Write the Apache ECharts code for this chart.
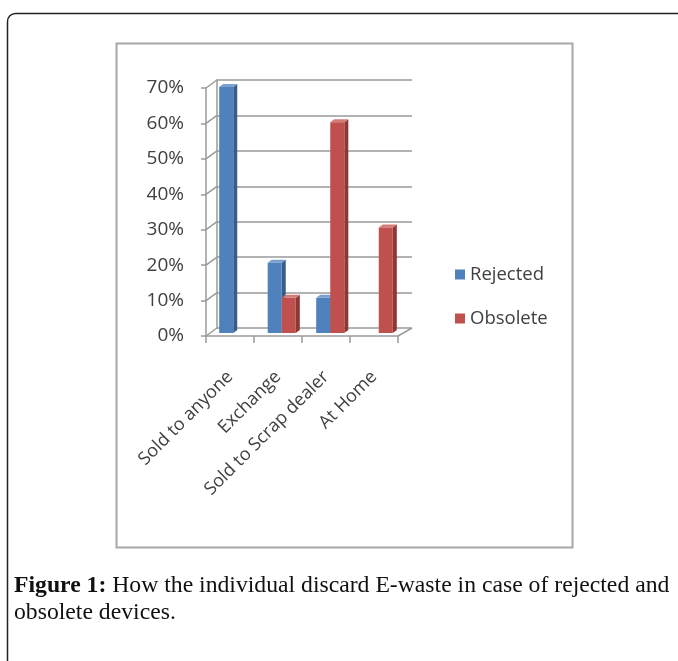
<!DOCTYPE html>
<html>
<head>
<meta charset="utf-8">
<script src="https://cdn.jsdelivr.net/npm/echarts@6/dist/echarts.min.js"></script>
<style>
  html, body { margin: 0; padding: 0; background: #fff; }
  #chart { width: 678px; height: 661px; }
</style>
</head>
<body>
<div id="chart"></div>
<script>
// Ways of discarding e-waste, share of respondents (%)
const categories = ['Sold to anyone', 'Exchange', 'Sold to Scrap dealer', 'At Home'];
const rejected = [70, 20, 10, 0];
const obsolete = [0, 10, 60, 30];
const yTicks = [0, 10, 20, 30, 40, 50, 60, 70];
const seriesNames = ['Rejected', 'Obsolete'];

const palette = {
  Rejected: { front: '#4F81BD', side: '#385D8A', top: '#7BA0D0' },
  Obsolete: { front: '#C0504D', side: '#8C3836', top: '#D47A77' }
};

const chart = echarts.init(document.getElementById('chart'), null, { renderer: 'canvas' });

// pseudo-3D column: front face, right side face and top face
function makeBarRenderer(name, side) {
  const c = palette[name];
  return function (params, api) {
    const cat = api.value(0);
    const v = api.value(1);
    if (!v) return null;
    const base = api.coord([cat, 0]);
    const top = api.coord([cat, v]);
    const band = api.size([1, 0])[0];
    const w = band * 0.29;
    const dx = 4, dy = -3;
    const x0 = side === 0 ? base[0] - w : base[0];
    const y0 = top[1], y1 = base[1];
    return {
      type: 'group',
      children: [
        { type: 'polygon', shape: { points: [[x0 + w, y0], [x0 + w + dx, y0 + dy], [x0 + w + dx, y1 + dy], [x0 + w, y1]] },
          style: { fill: c.side } },
        { type: 'polygon', shape: { points: [[x0, y0], [x0 + dx, y0 + dy], [x0 + w + dx, y0 + dy], [x0 + w, y0]] },
          style: { fill: c.top } },
        { type: 'rect', shape: { x: x0, y: y0, width: w, height: y1 - y0 },
          style: { fill: c.front } }
      ]
    };
  };
}

// diagonal connectors from the back wall to the front axis, plus floor edge
function renderFrame(params, api) {
  const v = api.value(0);
  const cs = params.coordSys;
  const y = api.coord([0, v])[1];
  const children = [
    { type: 'line', shape: { x1: cs.x, y1: y, x2: cs.x - 11, y2: y + 8 },
      style: { stroke: '#9a9a9a', lineWidth: 1.5 } }
  ];
  if (v === 0) {
    children.push({ type: 'line', shape: { x1: cs.x + cs.width, y1: y, x2: cs.x + cs.width - 14, y2: y + 8 },
      style: { stroke: '#9a9a9a', lineWidth: 1.5 } });
  }
  return { type: 'group', children: children };
}

const axisGray = '#9a9a9a';
const labelColor = '#404040';
const sansFont = '"Open Sans", "Liberation Sans", sans-serif';
const serifFont = '"Liberation Serif", serif';

chart.setOption({
  animation: false,
  backgroundColor: '#ffffff',
  grid: [
    { left: 206, top: 88, width: 192, height: 248 },   // front plane: axis labels
    { left: 217, top: 80, width: 195, height: 248 },   // back wall: gridlines
    { left: 209, top: 87, width: 194, height: 246 }    // column plane
  ],
  xAxis: [
    { gridIndex: 0, type: 'category', data: categories,
      axisLine: { show: true, lineStyle: { color: axisGray, width: 1.5 } },
      axisTick: { show: true, length: 7, lineStyle: { color: axisGray, width: 1.5 } },
      axisLabel: { rotate: 45, margin: 38, color: labelColor, fontSize: 18, fontFamily: sansFont, interval: 0 } },
    { gridIndex: 1, type: 'category', data: categories, show: false },
    { gridIndex: 2, type: 'category', data: categories, show: false }
  ],
  yAxis: [
    { gridIndex: 0, type: 'value', min: 0, max: 70, interval: 10,
      axisLine: { show: true, lineStyle: { color: axisGray, width: 1.5 } },
      axisTick: { show: true, length: 5, lineStyle: { color: axisGray, width: 1.5 } },
      splitLine: { show: false },
      axisLabel: { formatter: '{value}%', color: labelColor, fontSize: 19, fontFamily: sansFont, margin: 22 } },
    { gridIndex: 1, type: 'value', min: 0, max: 70, interval: 10,
      axisLine: { show: true, lineStyle: { color: axisGray, width: 1.5 } },
      axisTick: { show: false }, axisLabel: { show: false },
      splitLine: { show: true, lineStyle: { color: axisGray, width: 1.5 } } },
    { gridIndex: 2, type: 'value', min: 0, max: 70, interval: 10, show: false, splitLine: { show: false } }
  ],
  legend: {
    orient: 'vertical', left: 450, top: 260,
    icon: 'rect', itemWidth: 10, itemHeight: 10, itemGap: 25,
    data: seriesNames,
    textStyle: { color: labelColor, fontSize: 18.5, fontFamily: sansFont }
  },
  series: [
    { type: 'custom', name: 'frame', xAxisIndex: 1, yAxisIndex: 1, silent: true,
      renderItem: renderFrame, data: yTicks.map(v => [v]), z: 1 },
    { type: 'custom', name: 'Rejected', xAxisIndex: 2, yAxisIndex: 2,
      itemStyle: { color: palette.Rejected.front },
      renderItem: makeBarRenderer('Rejected', 0),
      data: rejected.map((v, i) => [i, v]), z: 5 },
    { type: 'custom', name: 'Obsolete', xAxisIndex: 2, yAxisIndex: 2,
      itemStyle: { color: palette.Obsolete.front },
      renderItem: makeBarRenderer('Obsolete', 1),
      data: obsolete.map((v, i) => [i, v]), z: 5 }
  ],
  graphic: [
    { type: 'rect', shape: { x: 7.5, y: 13.5, width: 720, height: 700, r: 8 },
      style: { fill: 'none', stroke: '#222', lineWidth: 1.5 }, z: -10, silent: true },
    { type: 'rect', shape: { x: 116.5, y: 43.5, width: 456, height: 504 },
      style: { fill: 'none', stroke: '#a8a8a8', lineWidth: 2 }, z: -9, silent: true },
    { type: 'text', left: 14, top: 574, silent: true,
      style: { text: '{b|Figure 1:} How the individual discard E-waste in case of rejected and',
        font: '23.7px ' + serifFont, fill: '#111',
        rich: { b: { fontWeight: 'bold', fontSize: 23.7, fontFamily: serifFont, fill: '#111' } } } },
    { type: 'text', left: 14, top: 601, silent: true,
      style: { text: 'obsolete devices.', font: '23.7px ' + serifFont, fill: '#111' } }
  ]
});
</script>
</body>
</html>
